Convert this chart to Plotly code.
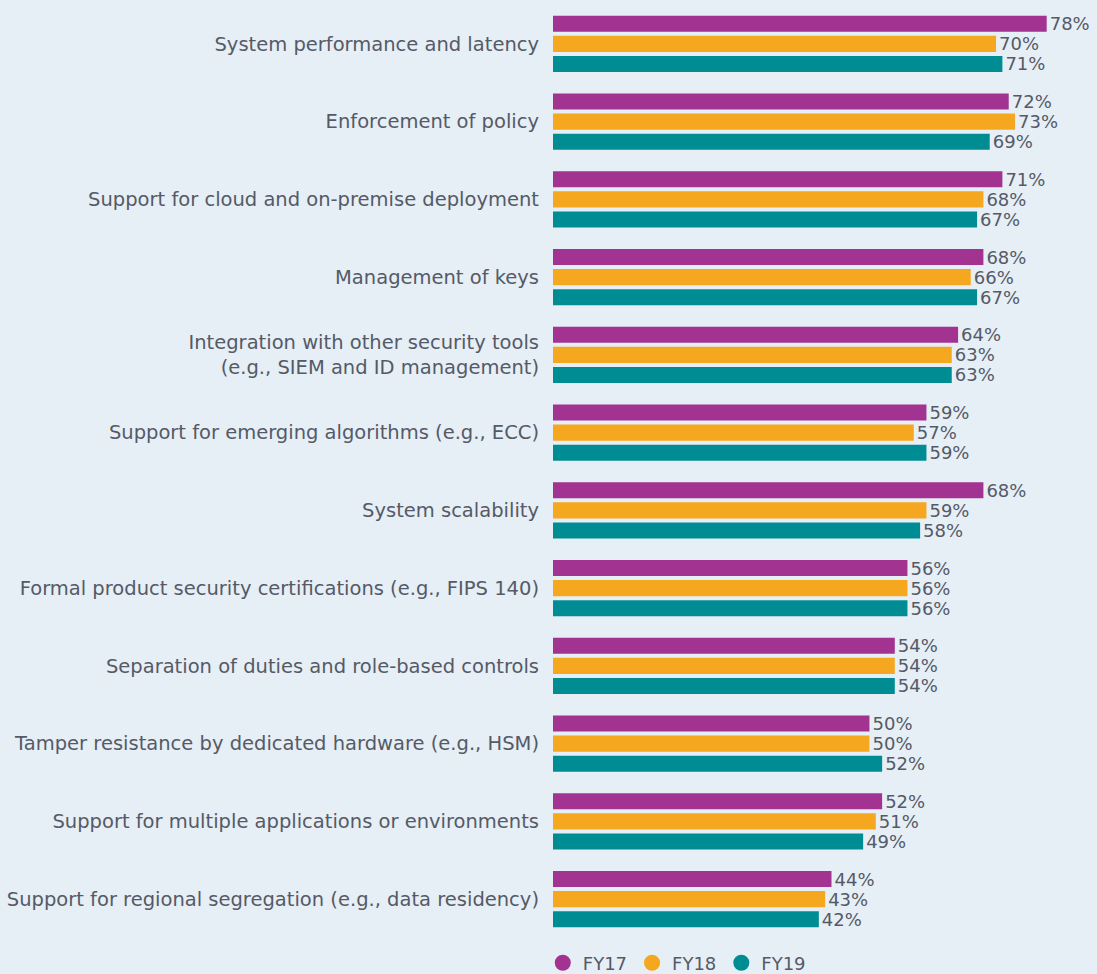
import plotly.graph_objects as go

categories = [
    "System performance and latency",
    "Enforcement of policy",
    "Support for cloud and on-premise deployment",
    "Management of keys",
    "Integration with other security tools<br>(e.g., SIEM and ID management)",
    "Support for emerging algorithms (e.g., ECC)",
    "System scalability",
    "Formal product security certifications (e.g., FIPS 140)",
    "Separation of duties and role-based controls",
    "Tamper resistance by dedicated hardware (e.g., HSM)",
    "Support for multiple applications or environments",
    "Support for regional segregation (e.g., data residency)",
]
fy17 = [78, 72, 71, 68, 64, 59, 68, 56, 54, 50, 52, 44]
fy18 = [70, 73, 68, 66, 63, 57, 59, 56, 54, 50, 51, 43]
fy19 = [71, 69, 67, 67, 63, 59, 58, 56, 54, 52, 49, 42]
series_names = ["FY17", "FY18", "FY19"]
colors = ["#A23391", "#F5A81F", "#008C93"]

text_color = "#555a66"
font_family = "DejaVu Sans, sans-serif"

fig = go.Figure()
for name, vals, col in zip(series_names, [fy17, fy18, fy19], colors):
    fig.add_trace(go.Bar(
        y=categories, x=vals, orientation="h", name=name,
        marker=dict(color=col, line=dict(width=0)),
        text=[f"{v}%" for v in vals], textposition="outside",
        constraintext="none",
        textfont=dict(size=18, color=text_color, family=font_family),
        cliponaxis=False, showlegend=False, hoverinfo="skip",
    ))
for name, col in zip(series_names, colors):
    fig.add_trace(go.Scatter(
        x=[None], y=[None], mode="markers", name=name,
        marker=dict(color=col, size=17, symbol="circle"),
    ))

fig.update_layout(
    width=1097, height=974,
    barmode="group", bargap=0.228, bargroupgap=0.2,
    paper_bgcolor="#E6EEF6", plot_bgcolor="#E6EEF6",
    margin=dict(l=553, r=6, t=5, b=36, autoexpand=False),
    font=dict(family=font_family, size=18, color=text_color),
    xaxis=dict(range=[0, 85], visible=False, showgrid=False, zeroline=False, fixedrange=True),
    yaxis=dict(autorange="reversed", showgrid=False, zeroline=False, showline=False,
               ticks="", ticklabelstandoff=13, automargin=False,
               tickfont=dict(size=19.5, color=text_color)),
    legend=dict(orientation="h", x=-0.019, xanchor="left", y=-0.007, yanchor="top",
                font=dict(size=18, color=text_color), bgcolor="rgba(0,0,0,0)",
                itemsizing="trace", tracegroupgap=0, itemwidth=30),
    showlegend=True,
)

fig.write_html(
    "out.html",
    config={"displayModeBar": False},
    post_script="document.body.style.margin='0';document.body.style.background='#E6EEF6';document.body.style.overflow='hidden';",
)
